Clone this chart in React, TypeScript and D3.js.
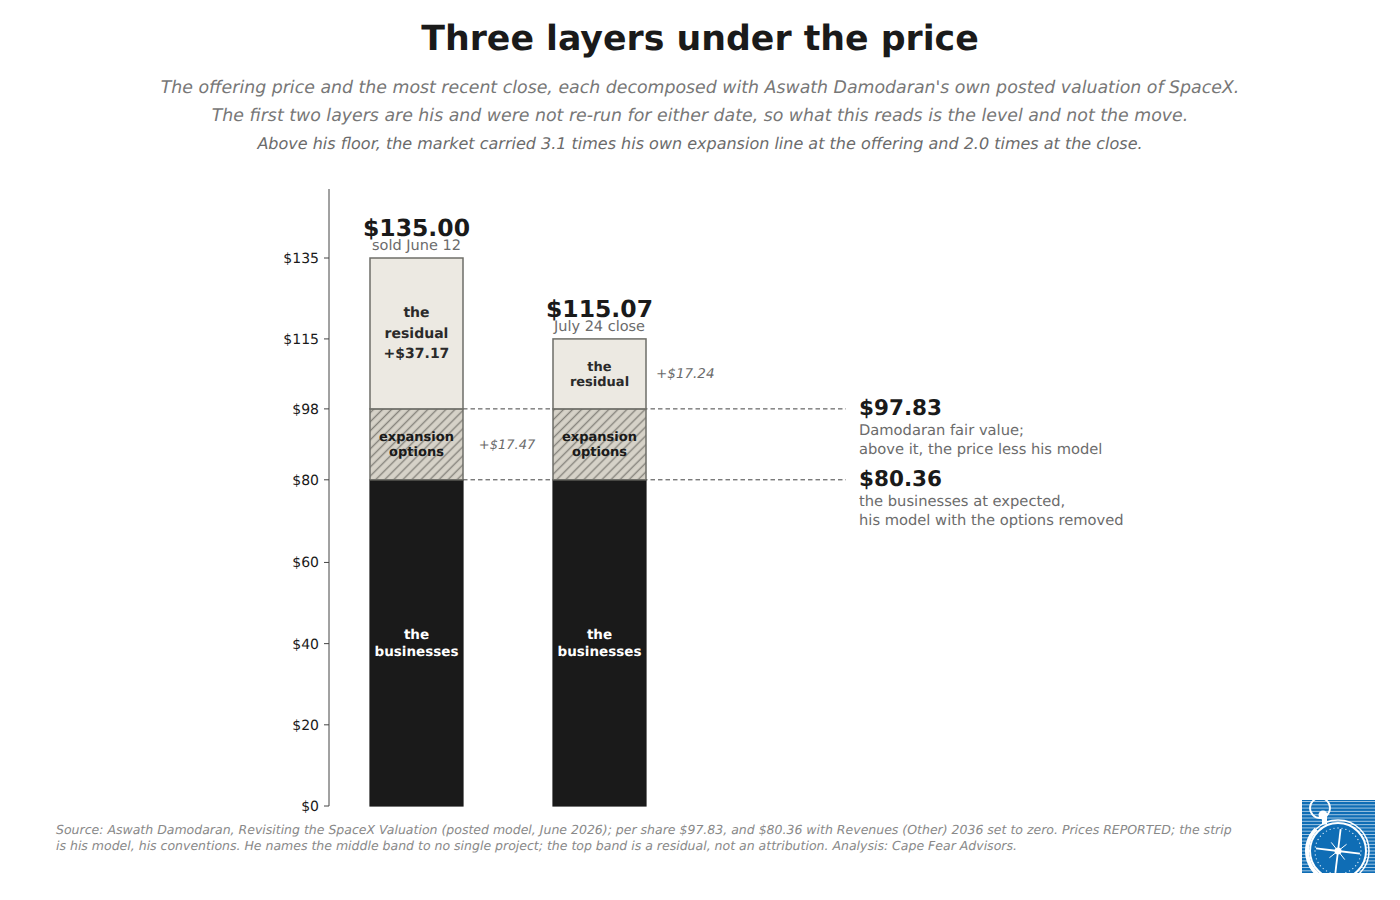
import * as d3 from 'd3';

const columns = ['$135.00', '$115.07'];
const columnNotes = ['sold June 12', 'July 24 close'];
const floorValue = 80.36;
const fairValue = 97.83;
const prices = [135, 115.07];
const yTicks = [0, 20, 40, 60, floorValue, fairValue, 115.07, 135];
const yMax = 152;

const subtitleLines = [
  "The offering price and the most recent close, each decomposed with Aswath Damodaran's own posted valuation of SpaceX.",
  'The first two layers are his and were not re-run for either date, so what this reads is the level and not the move.',
];
const subtitleLast = 'Above his floor, the market carried 3.1 times his own expansion line at the offering and 2.0 times at the close.';
const sourceLines = [
  'Source: Aswath Damodaran, Revisiting the SpaceX Valuation (posted model, June 2026); per share $97.83, and $80.36 with Revenues (Other) 2036 set to zero. Prices REPORTED; the strip',
  'is his model, his conventions. He names the middle band to no single project; the top band is a residual, not an attribution. Analysis: Cape Fear Advisors.',
];

const FONT = '"DejaVu Sans", sans-serif';
const INK = '#1a1a1a';
const GREY = '#6b6b6b';
const EDGE = '#6e6e68';
const BLUE = '#0f6db5';

const y = d3.scaleLinear().domain([0, yMax]).range([806, 189]);
const x = d3.scaleLinear().domain([0, 1]).range([416.5, 599.5]);
const barW = 93;
const dollars = d3.format('$.0f');

function Logo() {
  const stripes = d3.range(1, 73, 3.3);
  const cx = 1338, cy = 851, r = 26;
  const rays = d3.range(0, 8).map((i) => {
    const a = (i * Math.PI) / 4 + 0.12;
    return { a, len: i % 2 === 0 ? r * 0.85 : r * 0.42 };
  });
  const dial = d3.range(0, 36).map((i) => (i * Math.PI) / 18);
  // heavy white rim on the lower left of the case
  const rim = d3.arc()({ innerRadius: 29, outerRadius: 33, startAngle: Math.PI * 1.05, endAngle: Math.PI * 1.75 }) as string;
  return (
    <g>
      <defs>
        <clipPath id="logoClip"><rect x={1302} y={800} width={73} height={73} /></clipPath>
      </defs>
      <rect x={1302} y={800} width={73} height={73} fill={BLUE} />
      {stripes.map((s) => (
        <rect key={s} x={1302} y={800 + s} width={73} height={1} fill="#fff" opacity={0.6} />
      ))}
      <g clipPath="url(#logoClip)">
        <circle cx={1320} cy={808} r={10} fill="none" stroke="#fff" strokeWidth={1.8} />
        <circle cx={1323} cy={815} r={4.5} fill="#fff" />
        <rect x={1322} y={817} width={5} height={7} fill="#fff" />
        <circle cx={cx} cy={cy} r={31} fill="none" stroke="#fff" strokeWidth={1.5} />
        <path d={rim} transform={`translate(${cx},${cy})`} fill="#fff" />
        <circle cx={cx} cy={cy} r={r + 2} fill={BLUE} stroke="#fff" strokeWidth={2} />
        {dial.map((a, i) => (
          <circle key={i} cx={cx + Math.cos(a) * (r - 3)} cy={cy + Math.sin(a) * (r - 3)} r={0.7} fill="#cfe3f3" />
        ))}
        {rays.map((n, i) => (
          <line key={i} x1={cx} y1={cy} x2={cx + Math.cos(n.a) * n.len} y2={cy + Math.sin(n.a) * n.len}
            stroke="#fff" strokeWidth={i % 2 === 0 ? 1.8 : 1} />
        ))}
        <circle cx={cx} cy={cy} r={3.5} fill="#fff" />
      </g>
    </g>
  );
}

function Stack({ i }: { i: number }) {
  const cx = x(i);
  const left = cx - barW / 2;
  const yFloor = y(floorValue);
  const yFair = y(fairValue);
  const yPrice = y(prices[i]);
  return (
    <g>
      <rect x={left} y={yFloor} width={barW} height={y(0) - yFloor} fill={INK} stroke={INK} strokeWidth={1.2} />
      <rect x={left} y={yFair} width={barW} height={yFloor - yFair} fill="#d6d2c8" />
      <rect x={left} y={yFair} width={barW} height={yFloor - yFair} fill="url(#hatch)" stroke={EDGE} strokeWidth={1.5} />
      <rect x={left} y={yPrice} width={barW} height={yFair - yPrice} fill="#ece9e2" stroke={EDGE} strokeWidth={1.5} />
      <text fill="#fff" fontSize={13.5} fontWeight={700} textAnchor="middle">
        <tspan x={cx} y={639}>the</tspan>
        <tspan x={cx} dy={17}>businesses</tspan>
      </text>
      <text fill={INK} fontSize={13} fontWeight={700} textAnchor="middle">
        <tspan x={cx} y={441}>expansion</tspan>
        <tspan x={cx} dy={14.5}>options</tspan>
      </text>
      <text x={cx} y={yPrice - 22} fill={INK} fontSize={23.5} fontWeight={700} textAnchor="middle">{columns[i]}</text>
      <text x={cx} y={yPrice - 8} fill={GREY} fontSize={14.5} textAnchor="middle">{columnNotes[i]}</text>
    </g>
  );
}

export default function App() {
  return (
    <svg width={1400} height={900} style={{ position: 'absolute', left: 0, top: 0, background: '#fff' }}
      fontFamily={FONT} textRendering="geometricPrecision">
      <defs>
        <pattern id="hatch" width={6.4} height={6.4} patternUnits="userSpaceOnUse" patternTransform="rotate(45)">
          <line x1={3.2} y1={0} x2={3.2} y2={6.4} stroke="#85827b" strokeWidth={1.4} />
        </pattern>
      </defs>

      <text x={700} y={50} fontSize={34.75} fontWeight={700} fill={INK} textAnchor="middle">Three layers under the price</text>
      {subtitleLines.map((s, i) => (
        <text key={i} x={700} y={93 + i * 28} fontSize={17.35} fontStyle="italic" fill="#777777" textAnchor="middle">{s}</text>
      ))}
      <text x={700} y={149} fontSize={16} fontStyle="italic" fill={GREY} textAnchor="middle">{subtitleLast}</text>

      {/* guide lines at his two levels */}
      {[floorValue, fairValue].map((v) => (
        <line key={v} x1={x(0) + barW / 2} x2={846} y1={y(v)} y2={y(v)} stroke="#444" strokeWidth={1} strokeDasharray="4.5 3" />
      ))}

      {/* y axis */}
      <line x1={329} x2={329} y1={y(yMax)} y2={y(0)} stroke="#444" strokeWidth={1} />
      {yTicks.map((t) => (
        <g key={t}>
          <line x1={324} x2={329} y1={y(t)} y2={y(t)} stroke="#444" strokeWidth={1} />
          <text x={319} y={y(t) + 1} fontSize={14} fill={INK} textAnchor="end" dominantBaseline="central">{dollars(t)}</text>
        </g>
      ))}

      {columns.map((_, i) => <Stack key={i} i={i} />)}

      {/* residual labels differ in size, the second band is short */}
      <text fill="#2a2a2a" fontSize={14} fontWeight={700} textAnchor="middle">
        <tspan x={x(0)} y={317}>the</tspan>
        <tspan x={x(0)} dy={21}>residual</tspan>
        <tspan x={x(0)} dy={20}>+$37.17</tspan>
      </text>
      <text fill="#2a2a2a" fontSize={13} fontWeight={700} textAnchor="middle">
        <tspan x={x(1)} y={371}>the</tspan>
        <tspan x={x(1)} dy={15}>residual</tspan>
      </text>
      <text x={656} y={378} fontSize={13.5} fontStyle="italic" fill={GREY}>+$17.24</text>
      <text x={507} y={449} fontSize={13} fontStyle="italic" fill={GREY} textAnchor="middle">+$17.47</text>

      <text x={859} y={415} fontSize={21.5} fontWeight={700} fill={INK}>$97.83</text>
      <text x={859} y={435} fontSize={14.7} fill={GREY}>Damodaran fair value;</text>
      <text x={859} y={454} fontSize={14.7} fill={GREY}>above it, the price less his model</text>
      <text x={859} y={486} fontSize={21.5} fontWeight={700} fill={INK}>$80.36</text>
      <text x={859} y={506} fontSize={14.7} fill={GREY}>the businesses at expected,</text>
      <text x={859} y={525} fontSize={14.7} fill={GREY}>his model with the options removed</text>

      {sourceLines.map((s, i) => (
        <text key={i} x={56} y={834 + i * 16} fontSize={12.5} fontStyle="italic" fill="#888888">{s}</text>
      ))}
      <Logo />
    </svg>
  );
}
